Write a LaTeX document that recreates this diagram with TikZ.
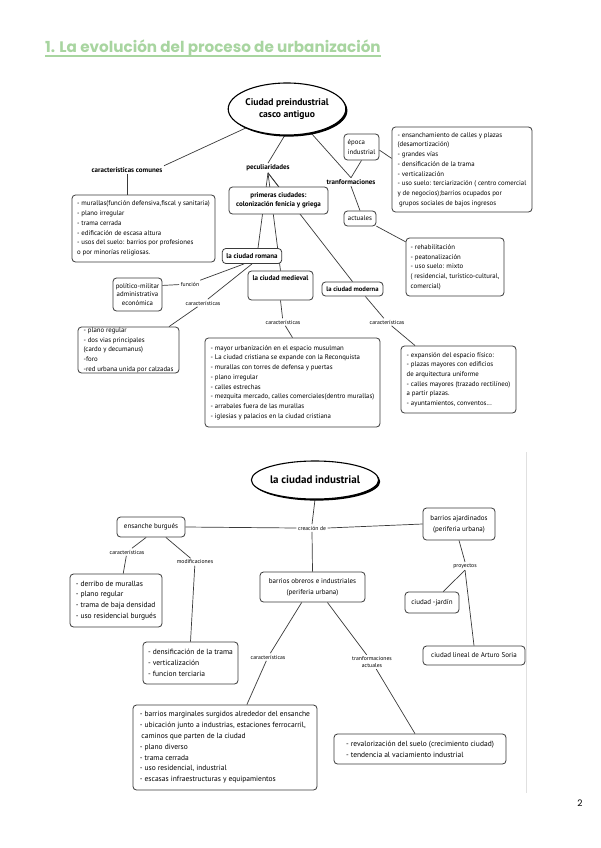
\documentclass[tikz,border=0pt]{standalone}
\usepackage{fontspec}
\setmainfont{PT Sans}
\newfontfamily\titlefont{Poppins}
\usetikzlibrary{shapes.geometric,shadows,calc}
\pgfdeclarelayer{bg}
\pgfsetlayers{bg,main}
\definecolor{titlegreen}{HTML}{A8D5A0}
\definecolor{boxline}{HTML}{3A3A3A}
\tikzset{
 box/.style={draw=boxline, line width=0.8pt, rounded corners=3.5pt, fill=white, inner sep=0pt, align=left},
 tsm/.style={font=\fontsize{6.8}{9.7}\selectfont},
 bsm/.style={font=\fontsize{7}{10.8}\selectfont},
 bsmL/.style={font=\fontsize{7.5}{10.8}\selectfont},
 blab/.style={font=\bfseries\fontsize{7}{9}\selectfont, inner sep=1.5pt},
 slab/.style={font=\fontsize{5.7}{6.8}\selectfont, inner sep=1.5pt, align=center},
 conn/.style={draw=boxline, line width=0.7pt},
 ellA/.style={ellipse, draw=black, line width=1.1pt, fill=white, align=center, inner sep=0pt,
   drop shadow={shadow xshift=1.6pt, shadow yshift=-1.6pt, fill=black, opacity=1}},
}
\begin{document}
\begin{tikzpicture}[x=1pt,y=-1pt]
\useasboundingbox (0,0) rectangle (600,848);

% title
\node[anchor=base west, inner sep=0pt, font=\titlefont\bfseries\fontsize{15.2}{17}\selectfont, text=titlegreen] (title) at (45,53) {1. La evolución del proceso de urbanización};
\draw[titlegreen, line width=1.1pt] ([yshift=-3pt]title.base west) -- ([yshift=-3pt]title.base east);

% ---------- top map ----------
\node[ellA, minimum width=100pt, minimum height=52pt, font=\bfseries\fontsize{9.6}{12}\selectfont] (pre) at (287,109) {Ciudad preindustrial\\casco antiguo};
\node[blab] (cc) at (127,170) {características comunes};
\node[blab] (pec) at (268,168) {peculiaridades};
\node[blab] (tra) at (351,182) {tranformaciones};
\node[box,tsm,minimum width=35pt,minimum height=26pt] (epo) at (361.5,147) {época\\industrial};
\node[box,tsm,minimum width=32pt,minimum height=15pt] (act) at (360,218.5) {actuales};
\node[box,tsm,minimum width=140pt,minimum height=85pt] (epoT) at (462,169.5) {- ensanchamiento de calles y plazas\\(desamortización)\\- grandes vías\\- densificación de la trama\\- verticalización\\- uso suelo: terciarización ( centro comercial\\y de negocios);barrios ocupados por\\\hspace{1.5pt}grupos sociales de bajos ingresos};
\node[box,tsm,minimum width=98pt,minimum height=58pt] (rehab) at (455,267) {- rehabilitación\\- peatonalización\\- uso suelo: mixto\\( residencial, turístico-cultural,\\comercial)};
\node[box,tsm,minimum width=143pt,minimum height=67pt] (ccT) at (143.5,228.5) {- murallas(función defensiva,fiscal y sanitaria)\\- plano irregular\\- trama cerrada\\- edificación de escasa altura\\- usos del suelo: barrios por profesiones\\o por minorías religiosas.};
\node[box,minimum width=99pt,minimum height=27pt,align=center,font=\bfseries\fontsize{7}{9.5}\selectfont] (prim) at (278.5,200.5) {primeras ciudades:\\colonización fenicia y griega};
\node[box,minimum height=15pt,inner xsep=4pt,font=\bfseries\fontsize{7}{9}\selectfont] (rom) at (252,256) {la ciudad romana};
\node[box,minimum width=65pt,inner xsep=3pt,inner ysep=4pt,text height=5pt,text depth=16pt,font=\bfseries\fontsize{7}{9}\selectfont] (med) at (280.5,285.5) {la ciudad medieval};
\node[box,minimum width=61pt,minimum height=14pt,font=\bfseries\fontsize{6.6}{9}\selectfont] (mod) at (352.5,289) {la ciudad moderna};
\node[box,tsm,minimum width=175pt,minimum height=89pt] (medT) at (292.5,382.5) {- mayor urbanización en el espacio musulman\\- La ciudad cristiana se expande con la Reconquista\\- murallas con torres de defensa y puertas\\- plano irregular\\- calles estrechas\\- mezquita mercado, calles comerciales(dentro murallas)\\- arrabales fuera de las murallas\\- iglesias y palacios en la ciudad cristiana};
\node[box,tsm,minimum width=115pt,minimum height=67pt] (modT) at (458.5,379.5) {- expansión del espacio físico:\\- plazas mayores con edificios\\de arquitectura uniforme\\- calles mayores (trazado rectilíneo)\\a partir plazas.\\- ayuntamientos, conventos...};
\node[box,minimum width=49pt,minimum height=33pt,align=center,font=\fontsize{6.8}{8.3}\selectfont] (pol) at (137.5,294.5) {político-militar\\administrativa\\económica};
\node[box,tsm,minimum width=101pt,minimum height=46pt] (romT) at (128.5,350) {- plano regular\\- dos vias principales\\(cardo y decumanus)\\-foro\\-red urbana unida por calzadas};
\node[slab] (fun) at (190,284) {función};
\node[slab] (carR) at (203,303) {características};
\node[slab] (carM) at (283,322) {características};
\node[slab] (carMo) at (387,322) {características};

% ---------- bottom map ----------
\node[ellA, minimum width=104pt, minimum height=38pt, font=\bfseries\fontsize{11}{13}\selectfont] (ind) at (315,480) {la ciudad industrial};
\node[box,bsm,minimum width=68pt,minimum height=20pt] (ens) at (151,527) {ensanche burgués};
\node[slab] (cre) at (312,528) {creación de};
\node[box,bsm,minimum width=72pt,minimum height=32pt,align=center] (aja) at (459,524) {barrios ajardinados\\(periferia urbana)};
\node[box,bsm,minimum width=105pt,minimum height=30pt,align=center] (obr) at (312.5,587) {barrios obreros e industriales\\(periferia urbana)};
\node[slab] (carE) at (127,552) {características};
\node[slab] (modE) at (195,562) {modificaciones};
\node[box,bsmL,minimum width=92pt,minimum height=53pt] (der) at (116,600.5) {- derribo de murallas\\- plano regular\\- trama de baja densidad\\- uso residencial burgués};
\node[box,bsmL,minimum width=95pt,minimum height=42pt] (dens) at (190.5,663) {- densificación de la trama\\- verticalización\\- funcion terciaria};
\node[slab] (pro) at (465,566) {proyectos};
\node[box,bsm,minimum width=54pt,minimum height=21pt] (jar) at (432,602.5) {ciudad -jardín};
\node[box,bsm,minimum width=102pt,minimum height=19pt] (lin) at (474,655.5) {ciudad lineal de Arturo Soria};
\node[slab] (carO) at (268,657) {características};
\node[slab] (traO) at (372,662) {tranformaciones\\actuales};
\node[box,bsmL,minimum width=184pt,minimum height=85pt] (mar) at (225,747.5) {- barrios marginales surgidos alrededor del ensanche\\- ubicación junto a industrias, estaciones ferrocarril,\\\hspace{1.5pt}caminos que parten de la ciudad\\- plano diverso\\- trama cerrada\\- uso residencial, industrial\\- escasas infraestructuras y equipamientos};
\node[box,bsmL,minimum width=172pt,minimum height=30pt] (rev) at (420,749) {- revalorización del suelo (crecimiento ciudad)\\- tendencia al vaciamiento industrial};

\node[font=\titlefont\fontsize{9}{10}\selectfont, inner sep=0pt] (pg) at (580,803) {2};

% ---------- connectors ----------
\begin{pgfonlayer}{bg}
\fill[white] (0,0) rectangle (600,848);
\draw[black!12, line width=0.6pt] (526,452) -- (526,793);
\draw[conn] (pre) -- (cc.north east);
\draw[conn] (pre.265) -- (pec.north);
\draw[conn] (pre.-45) -- (tra.north);
\draw[conn] (cc.south) -- (ccT.north -| cc.south);
\draw[conn] (pec.south) -- (prim.north);
\draw[conn] (pec.south) -- ($(rom.north)+(6,0)$);
\draw[conn] (pec.south) -- (med.north);
\draw[conn] (pec.south) -- (mod.north);
\draw[conn] (tra.north) -- (epo.south);
\draw[conn] (tra.south) -- (act.north);
\draw[conn] (epo.-10) -- (epoT.171);
\draw[conn] (act.-25) -- (rehab.153);
\draw[conn] (rom.225) -- (fun) -- (pol.20);
\draw[conn] (rom.south) -- (carR) -- (romT.30);
\draw[conn] (med.south) -- (carM) -- (medT.north);
\draw[conn] (mod.-30) -- (carMo) -- (modT.142);
\draw[conn] (ind.south) -- (cre.north);
\draw[conn] (ens.east) -- (cre.west);
\draw[conn] (cre.east) -- (aja.west);
\draw[conn] (cre.south) -- (obr.north);
\draw[conn] (ens.-115) -- (carE) -- (der.75);
\draw[conn] (ens.-35) -- (modE) -- (dens.north);
\draw[conn] (obr.-125) -- (carO) -- (mar.63);
\draw[conn] (obr.-46) -- (traO) -- (rev.108);
\draw[conn] (aja.south) -- (pro.north);
\draw[conn] (pro.south) -- (jar.44);
\draw[conn] (pro.south) -- (lin.north);
\end{pgfonlayer}
\end{tikzpicture}
\end{document}
